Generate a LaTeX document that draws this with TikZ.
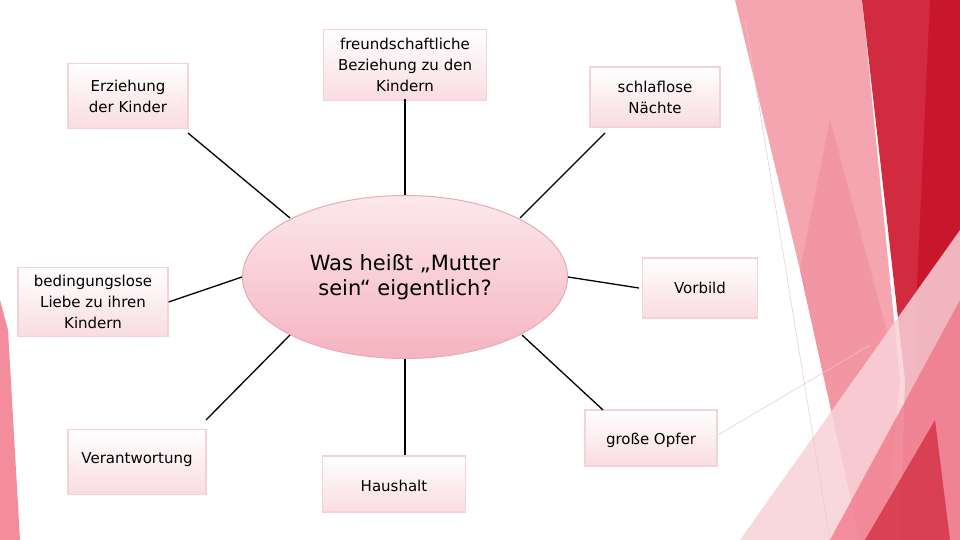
\documentclass[tikz,border=0pt]{standalone}
\usepackage{fontspec}
\setmainfont{DejaVu Sans}
\usetikzlibrary{shapes.geometric}
\definecolor{bx}{HTML}{F9DCE1}
\definecolor{bd}{HTML}{F3D3D8}
\definecolor{pk1}{RGB}{244,165,176}
\definecolor{pk2}{RGB}{242,150,164}
\definecolor{rd1}{RGB}{210,42,62}
\definecolor{rd2}{RGB}{200,22,45}
\definecolor{pk3}{RGB}{248,210,216}
\definecolor{pk4}{RGB}{240,110,130}
\definecolor{ln}{RGB}{230,200,205}
\definecolor{pk5}{RGB}{243,140,155}
\definecolor{eld}{RGB}{232,170,182}
\definecolor{elt}{RGB}{252,232,236}
\definecolor{elb}{RGB}{245,180,192}
\begin{document}
\begin{tikzpicture}[x=1pt,y=-1pt,
 box/.style={draw=bd,line width=1.2pt,top color=white,bottom color=bx,align=center,font=\fontsize{15}{21}\selectfont,inner sep=0pt},
 lbl/.style={font=\fontsize{15}{21}\selectfont},
 con/.style={line width=1.3pt,black}]
\useasboundingbox (0,0) rectangle (960,540);
\fill[white] (0,0) rectangle (960,540);
% decorations
\fill[pk1] (735,0) -- (862,0) -- (900,380) -- (885,540) -- (860,540) -- (800,270) -- cycle;
\fill[pk2] (800,270) -- (830,120) -- (900,380) -- (880,540) -- (860,540) -- cycle;
\fill[rd1] (862,0) -- (960,0) -- (960,540) -- (900,540) -- (905,380) -- cycle;
\fill[rd2] (930,0) -- (960,0) -- (960,540) -- (930,540) -- (915,330) -- cycle;
\fill[pk3,opacity=0.85] (740,540) -- (960,230) -- (960,540) -- cycle;
\fill[pk4,opacity=0.7] (830,540) -- (960,300) -- (960,540) -- cycle;
\fill[rd1,opacity=0.75] (865,540) -- (935,420) -- (950,540) -- cycle;
\draw[ln,line width=0.5pt] (745,20) -- (830,540);
\draw[ln,line width=0.5pt] (718,435) -- (870,345);
\fill[pk5] (0,300) -- (8,330) -- (20,540) -- (0,540) -- cycle;
% center
\node[ellipse,draw=eld,line width=1pt,minimum width=325,minimum height=163,
 top color=elt,bottom color=elb,
 align=center,font=\fontsize{21}{25}\selectfont] (c) at (405,277) {Was heißt „Mutter\\sein“ eigentlich?};
% boxes
\node[box,minimum width=120,minimum height=65] (b1) at (128,96) {Erziehung\\der Kinder};
\node[box,minimum width=163,minimum height=71] (b2) at (405,65) {freundschaftliche\\Beziehung zu den\\Kindern};
\node[box,minimum width=130,minimum height=60] (b3) at (655,97) {schlaflose\\Nächte};
\node[box,minimum width=150,minimum height=69] (b4) at (93,302) {bedingungslose\\Liebe zu ihren\\Kindern};
\node[box,minimum width=115,minimum height=60] (b5) at (700,288) {Vorbild};
\node[box,minimum width=132,minimum height=56] (b6) at (651,438) {};
\node[lbl] (t6) at (651,440) {große Opfer};
\node[box,minimum width=138,minimum height=65] (b7) at (137,462) {};
\node[lbl] (t7) at (137,460) {Verantwortung};
\node[box,minimum width=143,minimum height=56] (b8) at (394,484) {};
\node[lbl] (t8) at (394,486) {Haushalt};
% connectors
\coordinate (p1) at (188,133); \coordinate (p3) at (605,133);
\coordinate (p6) at (603,410); \coordinate (p7) at (206,420);
\coordinate (e1) at (290,218); \coordinate (e3) at (520,218);
\coordinate (e6) at (522,335); \coordinate (e7) at (290,335);
\draw[con] (p1) -- (e1);
\draw[con] ([yshift=2]b2.south) -- (c.north);
\draw[con] (p3) -- (e3);
\draw[con] (b4.east) -- (c.west);
\draw[con] (c.east) -- ([xshift=-3]b5.west);
\draw[con] (e6) -- (p6);
\draw[con] (e7) -- (p7);
\draw[con] (c.south) -- (b8.north -| c.south);
\end{tikzpicture}
\end{document}
